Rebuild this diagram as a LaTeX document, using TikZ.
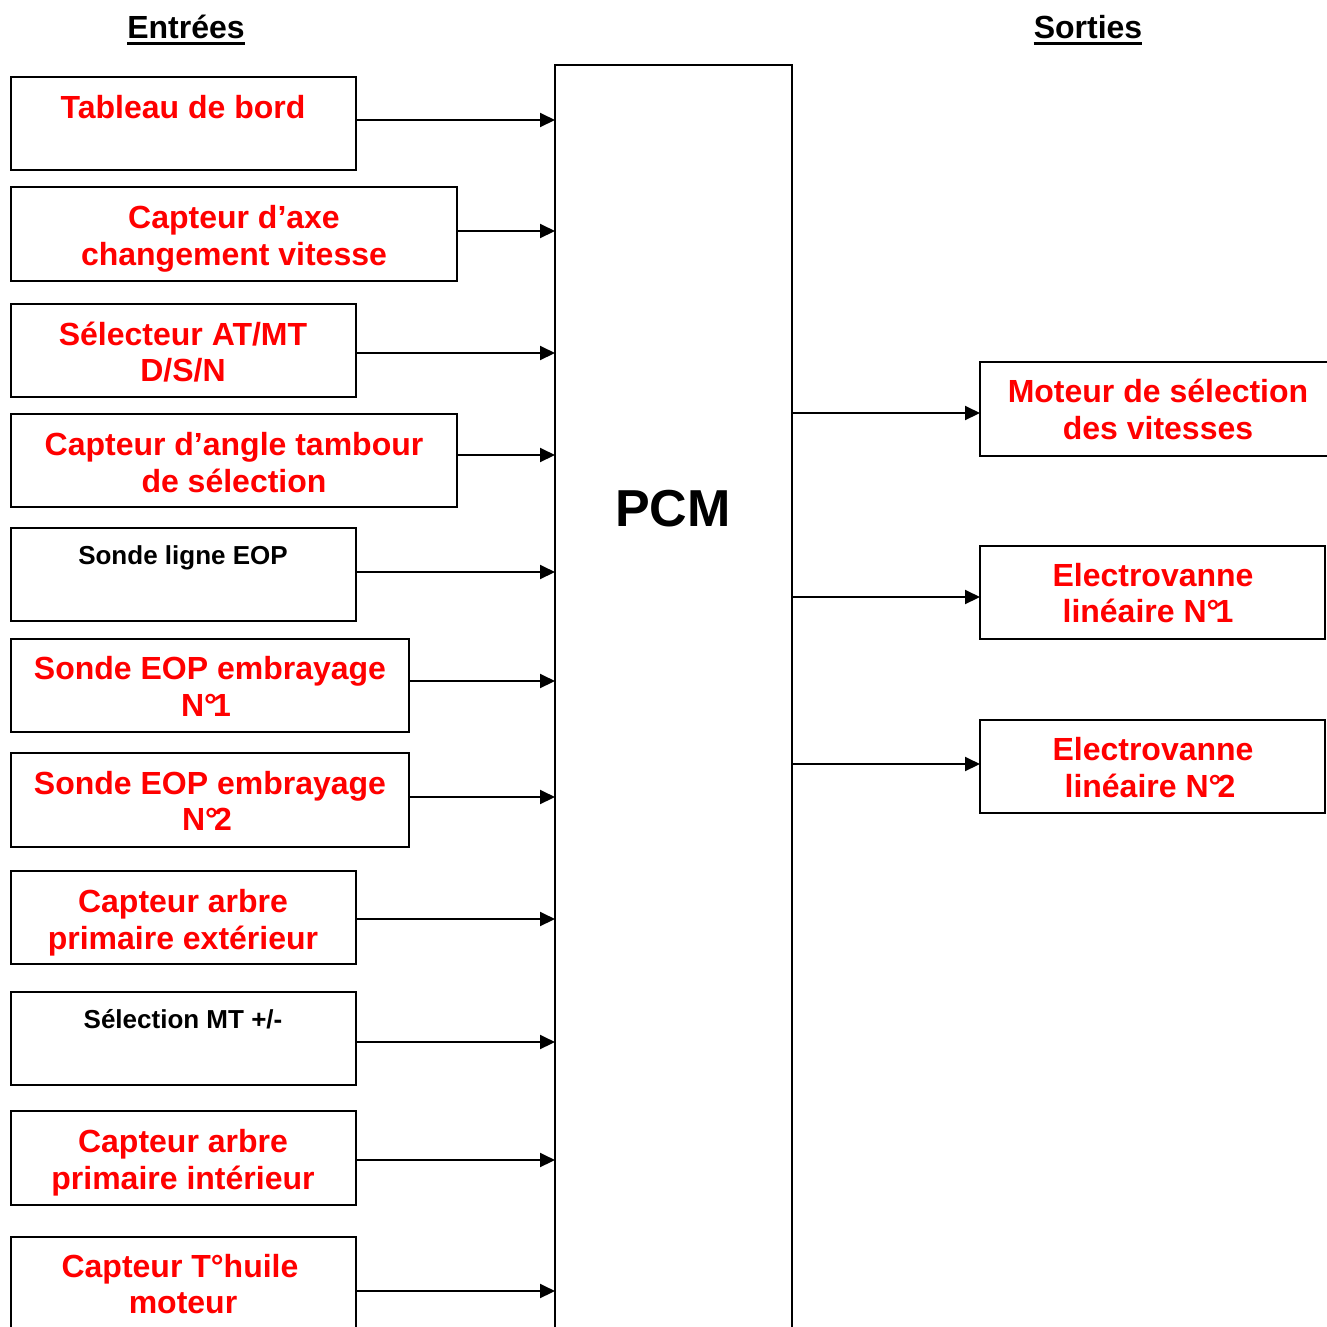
\documentclass[tikz,border=0pt]{standalone}
\usepackage{fontspec}
\setmainfont{Liberation Sans}
\usetikzlibrary{arrows.meta}
\definecolor{txtred}{RGB}{255,0,0}
\tikzset{
  box/.style={draw, line width=2pt, rectangle, inner sep=0pt, outer sep=0pt, anchor=north west},
  rl/.style={text=txtred, font=\bfseries\fontsize{32pt}{38pt}\selectfont, anchor=base, inner sep=0pt},
  bl/.style={text=black, font=\bfseries\fontsize{26pt}{30pt}\selectfont, anchor=base, inner sep=0pt},
  hd/.style={text=black, font=\bfseries\fontsize{32pt}{38pt}\selectfont, anchor=base, inner sep=0pt},
  arr/.style={line width=2pt, -{Triangle[length=15pt,width=14pt]}},
}
\begin{document}
\begin{tikzpicture}[x=1pt,y=-1pt]
\useasboundingbox (0,0) rectangle (1327,1326);
\clip (0,0) rectangle (1327,1326);
% headings
\node[hd] (hin) at (186,38) {Entrées};
\draw[line width=3pt] ([yshift=-5.5pt]hin.base west) -- ([yshift=-5.5pt]hin.base east);
\node[hd] (hout) at (1088,38) {Sorties};
\draw[line width=3pt] ([yshift=-5.5pt]hout.base west) -- ([yshift=-5.5pt]hout.base east);
% PCM
\node[box, minimum width=237pt, minimum height=1400pt] (pcm) at (555,65) {};
\node[font=\bfseries\fontsize{52pt}{60pt}\selectfont, anchor=base, inner sep=0pt] (pcmt) at (673,526) {PCM};
% input boxes
\node[box, minimum width=345pt, minimum height=93pt] (b1) at (11,77) {};
\node[box, minimum width=446pt, minimum height=94pt] (b2) at (11,187) {};
\node[box, minimum width=345pt, minimum height=93pt] (b3) at (11,304) {};
\node[box, minimum width=446pt, minimum height=93pt] (b4) at (11,414) {};
\node[box, minimum width=345pt, minimum height=93pt] (b5) at (11,528) {};
\node[box, minimum width=398pt, minimum height=93pt] (b6) at (11,639) {};
\node[box, minimum width=398pt, minimum height=94pt] (b7) at (11,753) {};
\node[box, minimum width=345pt, minimum height=93pt] (b8) at (11,871) {};
\node[box, minimum width=345pt, minimum height=93pt] (b9) at (11,992) {};
\node[box, minimum width=345pt, minimum height=94pt] (b10) at (11,1111) {};
\node[box, minimum width=345pt, minimum height=150pt] (b11) at (11,1237) {};
% output boxes
\node[box, minimum width=360pt, minimum height=94pt] (r1) at (980,362) {};
\node[box, minimum width=345pt, minimum height=93pt] (r2) at (980,546) {};
\node[box, minimum width=345pt, minimum height=93pt] (r3) at (980,720) {};
% input texts
\node[rl] (t1) at (183,118) {Tableau de bord};
\node[rl] (t2a) at (234,228) {Capteur d’axe};
\node[rl] (t2b) at (234,265) {changement vitesse};
\node[rl] (t3a) at (183,345) {Sélecteur AT/MT};
\node[rl] (t3b) at (183,381) {D/S/N};
\node[rl] (t4a) at (234,455) {Capteur d’angle tambour};
\node[rl] (t4b) at (234,492) {de sélection};
\node[bl] (t5) at (183,564) {Sonde ligne EOP};
\node[rl] (t6a) at (210,679) {Sonde EOP embrayage};
\node[rl] (t6b) at (206,716) {N°\kern-0.12em1};
\node[rl] (t7a) at (210,794) {Sonde EOP embrayage};
\node[rl] (t7b) at (207,830) {N°\kern-0.12em2};
\node[rl] (t8a) at (183,912) {Capteur arbre};
\node[rl] (t8b) at (183,949) {primaire extérieur};
\node[bl] (t9) at (183,1028) {Sélection MT +/-};
\node[rl] (t10a) at (183,1152) {Capteur arbre};
\node[rl] (t10b) at (183,1189) {primaire intérieur};
\node[rl] (t11a) at (180,1277) {Capteur T°huile};
\node[rl] (t11b) at (183,1313) {moteur};
% output texts
\node[rl] (o1a) at (1158,402) {Moteur de sélection};
\node[rl] (o1b) at (1158,439) {des vitesses};
\node[rl] (o2a) at (1153,586) {Electrovanne};
\node[rl] (o2b) at (1148,622) {linéaire N°\kern-0.12em1};
\node[rl] (o3a) at (1153,760) {Electrovanne};
\node[rl] (o3b) at (1150,797) {linéaire N°\kern-0.12em2};
% input arrows
\coordinate (s1) at ([yshift=-43pt]b1.north east);
\coordinate (s2) at ([yshift=-44pt]b2.north east);
\coordinate (s3) at ([yshift=-49pt]b3.north east);
\coordinate (s4) at ([yshift=-41pt]b4.north east);
\coordinate (s5) at ([yshift=-44pt]b5.north east);
\coordinate (s6) at ([yshift=-42pt]b6.north east);
\coordinate (s7) at ([yshift=-44pt]b7.north east);
\coordinate (s8) at ([yshift=-48pt]b8.north east);
\coordinate (s9) at ([yshift=-50pt]b9.north east);
\coordinate (s10) at ([yshift=-49pt]b10.north east);
\coordinate (s11) at ([yshift=-54pt]b11.north east);
\foreach \i in {1,...,11}{
  \draw[arr] (s\i) -- (s\i -| pcm.west);
}
% output arrows
\coordinate (e1) at ([yshift=-51pt]r1.north west);
\coordinate (e2) at ([yshift=-51pt]r2.north west);
\coordinate (e3) at ([yshift=-44pt]r3.north west);
\foreach \i in {1,2,3}{
  \draw[arr] (e\i -| pcm.east) -- (e\i);
}
\end{tikzpicture}
\end{document}
